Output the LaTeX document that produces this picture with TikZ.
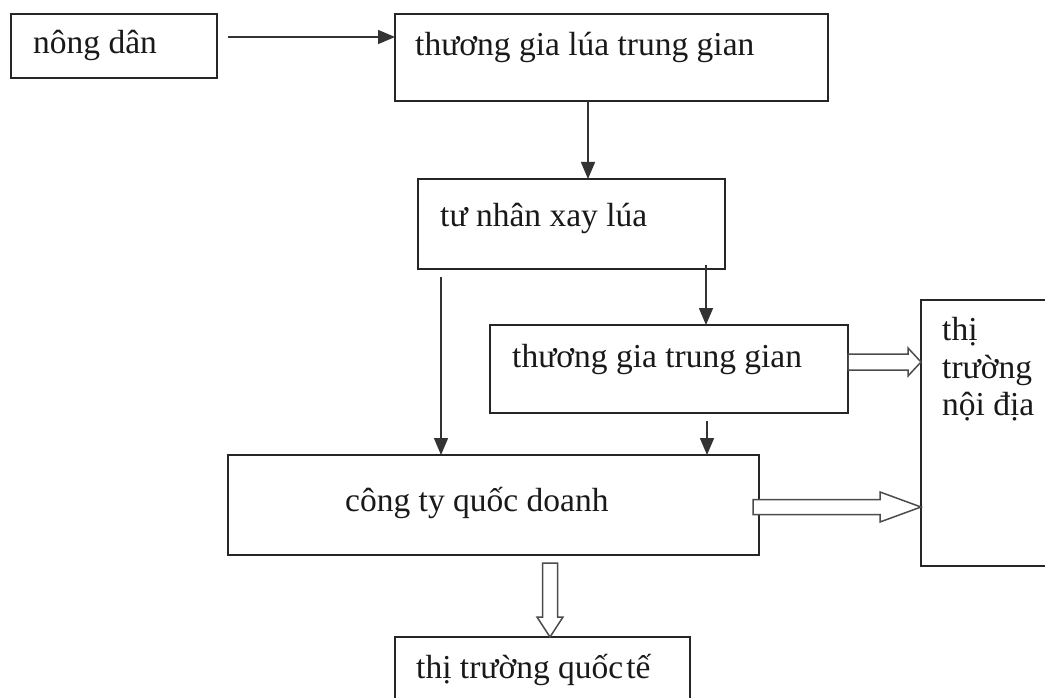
\documentclass[tikz,border=0pt]{standalone}
\usepackage{fontspec}
\setmainfont{Liberation Serif}
\usetikzlibrary{arrows.meta,calc}
\begin{document}
\begin{tikzpicture}[x=1pt,y=-1pt,
  box/.style={draw=black!85,line width=1.5pt,inner sep=0pt,outer sep=0pt,anchor=north west,fill=white},
  lbl/.style={inner sep=0pt,anchor=base west,font=\fontsize{33.5}{38}\selectfont,text=black!90},
  arr/.style={draw=black!80,line width=1.5pt,-{Triangle[length=17pt,width=14pt]}},
  hollow/.style={draw=black!70,line width=1.5pt,fill=white,line join=miter}]
\useasboundingbox (0,0) rectangle (1045,698);
\clip (0,0) rectangle (1045,698);
\fill[white] (0,0) rectangle (1045,698);
% boxes
\node[box,minimum width=206pt,minimum height=64pt] (nd) at (11,14) {};
\node[box,minimum width=433pt,minimum height=87pt] (tglg) at (395,14) {};
\node[box,minimum width=307pt,minimum height=90pt] (tnxl) at (418,179) {};
\node[box,minimum width=358pt,minimum height=88pt] (tgtg) at (490,325) {};
\node[box,minimum width=531pt,minimum height=100pt] (ctqd) at (228,455) {};
\node[box,minimum width=140pt,minimum height=266pt] (ttnd) at (921,300) {};
\node[box,minimum width=295pt,minimum height=80pt] (ttqt) at (395,637) {};
% labels
\node[lbl] (tnd) at (33,54) {nông dân};
\node[lbl] (ttglg) at (415,56) {thương gia lúa trung gian};
\node[lbl] (ttnxl) at (440,226) {tư nhân xay lúa};
\node[lbl] (ttgtg) at (512,367) {thương gia trung gian};
\node[lbl] (tctqd) at (345,511) {công ty quốc doanh};
\node[lbl] (tttqt) at (416,678) {thị trường quốc\hspace{3pt}tế};
\node[lbl] (tnd1) at (942,340) {thị};
\node[lbl] (tnd2) at (942,378) {trường};
\node[lbl] (tnd3) at (942,415) {nội địa};
% plain arrows
\coordinate (s1) at (228,37);
\draw[arr] (s1) -- (tglg.west |- s1);
\coordinate (c2) at (588,0);
\draw[arr] (tglg.south -| c2) -- (tnxl.north -| c2);
\coordinate (s3) at (706,265);
\draw[arr] (s3) -- (tgtg.north -| s3);
\coordinate (s4) at (441,277);
\draw[arr] (s4) -- (ctqd.north -| s4);
\coordinate (s5) at (707,421);
\draw[arr] (s5) -- (ctqd.north -| s5);
% hollow arrows
\coordinate (y1) at (0,362);
\coordinate (h1s) at (tgtg.east |- y1);
\coordinate (h1e) at (ttnd.west |- y1);
\draw[hollow] ($(h1s)+(0,-8)$) -- ($(h1e)+(-13,-8)$) -- ($(h1e)+(-13,-14)$) -- (h1e)
  -- ($(h1e)+(-13,14)$) -- ($(h1e)+(-13,8)$) -- ($(h1s)+(0,8)$) -- cycle;
\coordinate (y2) at (0,507);
\coordinate (h2s) at ($(ctqd.east |- y2)+(-6,0)$);
\coordinate (h2e) at (ttnd.west |- y2);
\draw[hollow] ($(h2s)+(0,-7.5)$) -- ($(h2e)+(-41,-7.5)$) -- ($(h2e)+(-41,-15)$) -- (h2e)
  -- ($(h2e)+(-41,15)$) -- ($(h2e)+(-41,7.5)$) -- ($(h2s)+(0,7.5)$) -- cycle;
\coordinate (x3) at (550,0);
\coordinate (h3s) at ($(ctqd.south -| x3)+(0,8)$);
\coordinate (h3e) at (ttqt.north -| x3);
\draw[hollow] ($(h3s)+(-7.5,0)$) -- ($(h3e)+(-7.5,-20)$) -- ($(h3e)+(-13,-20)$) -- (h3e)
  -- ($(h3e)+(13,-20)$) -- ($(h3e)+(7.5,-20)$) -- ($(h3s)+(7.5,0)$) -- cycle;
\end{tikzpicture}
\end{document}
